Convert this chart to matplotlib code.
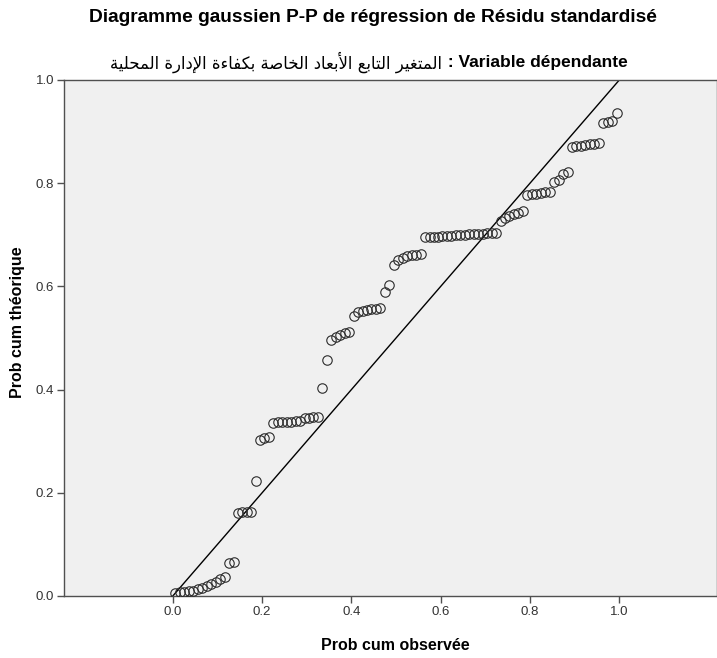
import matplotlib
matplotlib.use("Agg")
import matplotlib.pyplot as plt

# ---------------- data ----------------
obs_prob = [
    0.006, 0.016, 0.026, 0.036, 0.046, 0.056, 0.066, 0.076, 0.086, 0.096,
    0.106, 0.116, 0.126, 0.136, 0.146, 0.156, 0.166, 0.176, 0.186, 0.196,
    0.205, 0.215, 0.225, 0.235, 0.245, 0.255, 0.265, 0.275, 0.285, 0.295,
    0.305, 0.315, 0.325, 0.335, 0.345, 0.355, 0.365, 0.375, 0.385, 0.395,
    0.405, 0.415, 0.425, 0.435, 0.445, 0.455, 0.465, 0.475, 0.485, 0.495,
    0.505, 0.515, 0.525, 0.535, 0.545, 0.555, 0.565, 0.575, 0.585, 0.595,
    0.604, 0.614, 0.624, 0.634, 0.644, 0.654, 0.664, 0.674, 0.684, 0.694,
    0.704, 0.714, 0.724, 0.734, 0.744, 0.754, 0.764, 0.774, 0.784, 0.794,
    0.804, 0.814, 0.824, 0.834, 0.844, 0.854, 0.864, 0.874, 0.884, 0.894,
    0.904, 0.914, 0.924, 0.934, 0.944, 0.954, 0.964, 0.974, 0.984, 0.994,
]
exp_prob = [
    0.006, 0.007, 0.008, 0.009, 0.010,
    0.013, 0.016, 0.020, 0.024, 0.027, 0.032, 0.036,
    0.064, 0.066,
    0.161, 0.162, 0.162, 0.163,
    0.223,
    0.302, 0.306, 0.308,
    0.336, 0.337, 0.337, 0.338, 0.338, 0.339, 0.340,
    0.344, 0.345, 0.346, 0.347,
    0.404,
    0.458,
    0.497, 0.502, 0.505, 0.509, 0.511,
    0.542,
    0.551, 0.553, 0.554, 0.556, 0.557, 0.558,
    0.590, 0.602,
    0.641, 0.651, 0.655,
    0.659, 0.660, 0.661, 0.662,
    0.695, 0.695, 0.696, 0.696, 0.697, 0.697, 0.698,
    0.699, 0.700, 0.700, 0.701, 0.701, 0.702, 0.702, 0.703, 0.703, 0.704,
    0.727, 0.732, 0.737, 0.741, 0.743, 0.746,
    0.778, 0.779, 0.780, 0.781, 0.782, 0.783,
    0.803, 0.806, 0.818, 0.822,
    0.870, 0.872, 0.873, 0.874, 0.875, 0.876, 0.878,
    0.917, 0.919, 0.920,
    0.936,
]
ref_line = [0.0, 1.0]
tick_values = [0.0, 0.2, 0.4, 0.6, 0.8, 1.0]
tick_labels = ["0.0", "0.2", "0.4", "0.6", "0.8", "1.0"]

title = "Diagramme gaussien P-P de régression de Résidu standardisé"
dep_label = "Variable dépendante"
dep_arabic = "المتغير التابع الأبعاد الخاصة بكفاءة الإدارة المحلية"
xlabel = "Prob cum observée"
ylabel = "Prob cum théorique"

# ---------------- simple Arabic shaping (matplotlib has no bidi/shaping) ----------------
FORMS = {
    'ء': (0xFE80,),
    'آ': (0xFE81, 0xFE82),
    'أ': (0xFE83, 0xFE84),
    'إ': (0xFE87, 0xFE88),
    'ا': (0xFE8D, 0xFE8E),
    'ب': (0xFE8F, 0xFE90, 0xFE91, 0xFE92),
    'ة': (0xFE93, 0xFE94),
    'ت': (0xFE95, 0xFE96, 0xFE97, 0xFE98),
    'ح': (0xFEA1, 0xFEA2, 0xFEA3, 0xFEA4),
    'خ': (0xFEA5, 0xFEA6, 0xFEA7, 0xFEA8),
    'د': (0xFEA9, 0xFEAA),
    'ر': (0xFEAD, 0xFEAE),
    'ص': (0xFEB9, 0xFEBA, 0xFEBB, 0xFEBC),
    'ع': (0xFEC9, 0xFECA, 0xFECB, 0xFECC),
    'غ': (0xFECD, 0xFECE, 0xFECF, 0xFED0),
    'ف': (0xFED1, 0xFED2, 0xFED3, 0xFED4),
    'ك': (0xFED9, 0xFEDA, 0xFEDB, 0xFEDC),
    'ل': (0xFEDD, 0xFEDE, 0xFEDF, 0xFEE0),
    'م': (0xFEE1, 0xFEE2, 0xFEE3, 0xFEE4),
    'ي': (0xFEF1, 0xFEF2, 0xFEF3, 0xFEF4),
}
LAM_ALEF = {'ا': (0xFEFB, 0xFEFC), 'أ': (0xFEF7, 0xFEF8), 'إ': (0xFEF9, 0xFEFA)}


def shape_arabic(text):
    toks = []
    i = 0
    while i < len(text):
        c = text[i]
        if c == 'ل' and i + 1 < len(text) and text[i + 1] in LAM_ALEF:
            toks.append(('LA', text[i + 1]))
            i += 2
        else:
            toks.append(c)
            i += 1

    def jtype(t):
        if isinstance(t, tuple):
            return 'R'
        f = FORMS.get(t)
        if f is None or len(f) == 1:
            return 'U'
        return 'D' if len(f) == 4 else 'R'

    out = []
    for k, t in enumerate(toks):
        jp = k > 0 and jtype(toks[k - 1]) == 'D' and jtype(t) in ('D', 'R')
        jn = (k + 1 < len(toks) and jtype(t) == 'D'
              and jtype(toks[k + 1]) in ('D', 'R'))
        if isinstance(t, tuple):
            f = LAM_ALEF[t[1]]
            out.append(chr(f[1] if jp else f[0]))
            continue
        f = FORMS.get(t)
        if f is None:
            out.append(t)
            continue
        if len(f) == 1:
            out.append(chr(f[0]))
        elif len(f) == 2:
            out.append(chr(f[1] if jp else f[0]))
        else:
            if jp and jn:
                out.append(chr(f[3]))
            elif jp:
                out.append(chr(f[1]))
            elif jn:
                out.append(chr(f[2]))
            else:
                out.append(chr(f[0]))
    return ''.join(reversed(out))


# ---------------- figure ----------------
W, H, DPI = 717, 658, 100
fig = plt.figure(figsize=(W / DPI, H / DPI), dpi=DPI)
fig.patch.set_facecolor("white")

ax = fig.add_axes([64 / W, 1 - 596 / H, (716.5 - 64) / W, (596 - 80) / H])
ax.set_facecolor("#F0F0F0")

x0px, scale = 172.8, 446.5
ax.set_xlim((64 - x0px) / scale, (716.5 - x0px) / scale)
ax.set_ylim(0.0, 1.0)

ax.plot(ref_line, ref_line, color="black", lw=1.0, zorder=2)
ax.plot(obs_prob, exp_prob, linestyle="none", marker="o", markersize=6.8,
        markerfacecolor="none", markeredgecolor="#2b2b2b",
        markeredgewidth=0.8, zorder=3)

spine_col = "#505050"
for s in ax.spines.values():
    s.set_color(spine_col)
    s.set_linewidth(1.0)

ax.set_xticks(tick_values)
ax.set_xticklabels(tick_labels)
ax.set_yticks(tick_values)
ax.set_yticklabels(tick_labels)
ax.tick_params(axis="both", direction="out", length=5, width=1.0,
               color=spine_col, labelcolor="#333333", labelsize=9.5, pad=2)
fam = ["Liberation Sans", "DejaVu Sans"]
for lab in ax.get_xticklabels() + ax.get_yticklabels():
    lab.set_family(fam)

renderer = fig.canvas.get_renderer()

# title: bold, spanning roughly 88..657 px
t1 = fig.text(372.5 / W, 1 - 18 / H, title, ha="center", va="center",
              fontsize=13, fontweight="bold", family=fam, color="black")
w1 = t1.get_window_extent(renderer).width
t1.set_fontsize(13 * 569.0 / w1)

# subtitle: Arabic (regular) on the left, ": Variable dépendante" (bold) on the right
y2 = 1 - 62 / H
ta = fig.text(0, y2, shape_arabic(dep_arabic), ha="left", va="center",
              fontsize=11, family=["DejaVu Sans"], color="black")
tl = fig.text(0, y2, " : " + dep_label, ha="left", va="center",
              fontsize=11.5, fontweight="bold", family=fam, color="black")
wa = ta.get_window_extent(renderer).width
wl = tl.get_window_extent(renderer).width
target = 518.0
sc = target / (wa + wl)
ta.set_fontsize(11 * sc)
tl.set_fontsize(11.5 * sc)
wa *= sc
wl *= sc
left = 369.0 - (wa + wl) / 2
ta.set_x(left / W)
tl.set_x((left + wa) / W)

fig.text(395 / W, 1 - 645 / H, xlabel, ha="center", va="center",
         fontsize=11.5, fontweight="bold", family=fam)
fig.text(18 / W, 1 - 322 / H, ylabel, ha="center", va="center",
         rotation=90, fontsize=11.5, fontweight="bold", family=fam)

fig.savefig("out.png", dpi=DPI, facecolor="white")
